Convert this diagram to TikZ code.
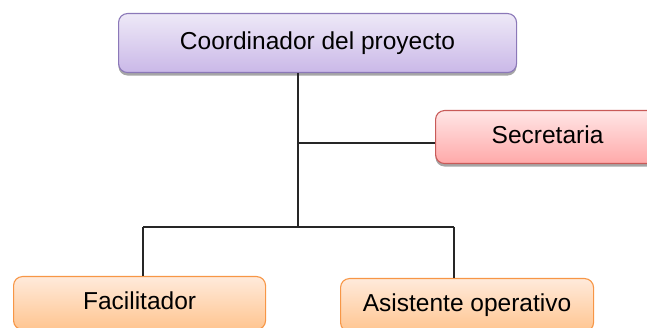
\documentclass[tikz,border=0pt]{standalone}
\usepackage{fontspec}
\setmainfont{Liberation Sans}
\usetikzlibrary{shadows}

\definecolor{lilaTop}{HTML}{EEE9F7}
\definecolor{lilaBot}{HTML}{CAB8E8}
\definecolor{lilaLine}{HTML}{8B78B8}
\definecolor{rosaTop}{HTML}{FFE6E6}
\definecolor{rosaBot}{HTML}{FFA9A9}
\definecolor{rosaLine}{HTML}{C85A58}
\definecolor{narTop}{HTML}{FFEADB}
\definecolor{narBot}{HTML}{FFC590}
\definecolor{narLine}{HTML}{F79646}

\begin{document}
\begin{tikzpicture}[
    x=1pt, y=-1pt,
    box/.style={rectangle, rounded corners=9pt, line width=1.1pt, inner sep=0pt,
        anchor=north west, text height=17pt, text depth=5pt,
        font=\fontsize{24.5}{29}\selectfont},
    jefe/.style={box, draw=lilaLine, top color=lilaTop, bottom color=lilaBot,
        drop shadow={shadow xshift=0pt, shadow yshift=-3pt, fill=gray!70, opacity=1}},
    apoyo/.style={box, draw=rosaLine, top color=rosaTop, bottom color=rosaBot,
        drop shadow={shadow xshift=0pt, shadow yshift=-3pt, fill=gray!70, opacity=1}},
    equipo/.style={box, draw=narLine, top color=narTop, bottom color=narBot},
    link/.style={line width=1.3pt, draw=black!85}
]
\useasboundingbox (0,0) rectangle (647,328);

% Nodes
\node[jefe, minimum width=398pt, minimum height=59pt] (coord) at (118,13) {Coordinador del proyecto};
\node[apoyo, minimum width=224pt, minimum height=53pt] (secre) at (435,110) {Secretaria};
\node[equipo, minimum width=252pt, minimum height=53pt] (facil) at (13,276) {Facilitador};
\node[equipo, minimum width=253pt, minimum height=53pt] (asist) at (340,278) {Asistente operativo};

% Junctions
\coordinate (tronco) at (298,227);
\coordinate (ramaSec) at (298,143);
\coordinate (ramaFac) at (143,227);
\coordinate (ramaAsi) at (454,227);

% Edges
\draw[link] (coord.south -| tronco) -- (tronco);
\draw[link] (ramaSec) -- (ramaSec -| secre.west);
\draw[link] (ramaFac) -- (ramaAsi);
\draw[link] (ramaFac) -- (ramaFac |- facil.north);
\draw[link] (ramaAsi) -- (ramaAsi |- asist.north);

\end{tikzpicture}
\end{document}
